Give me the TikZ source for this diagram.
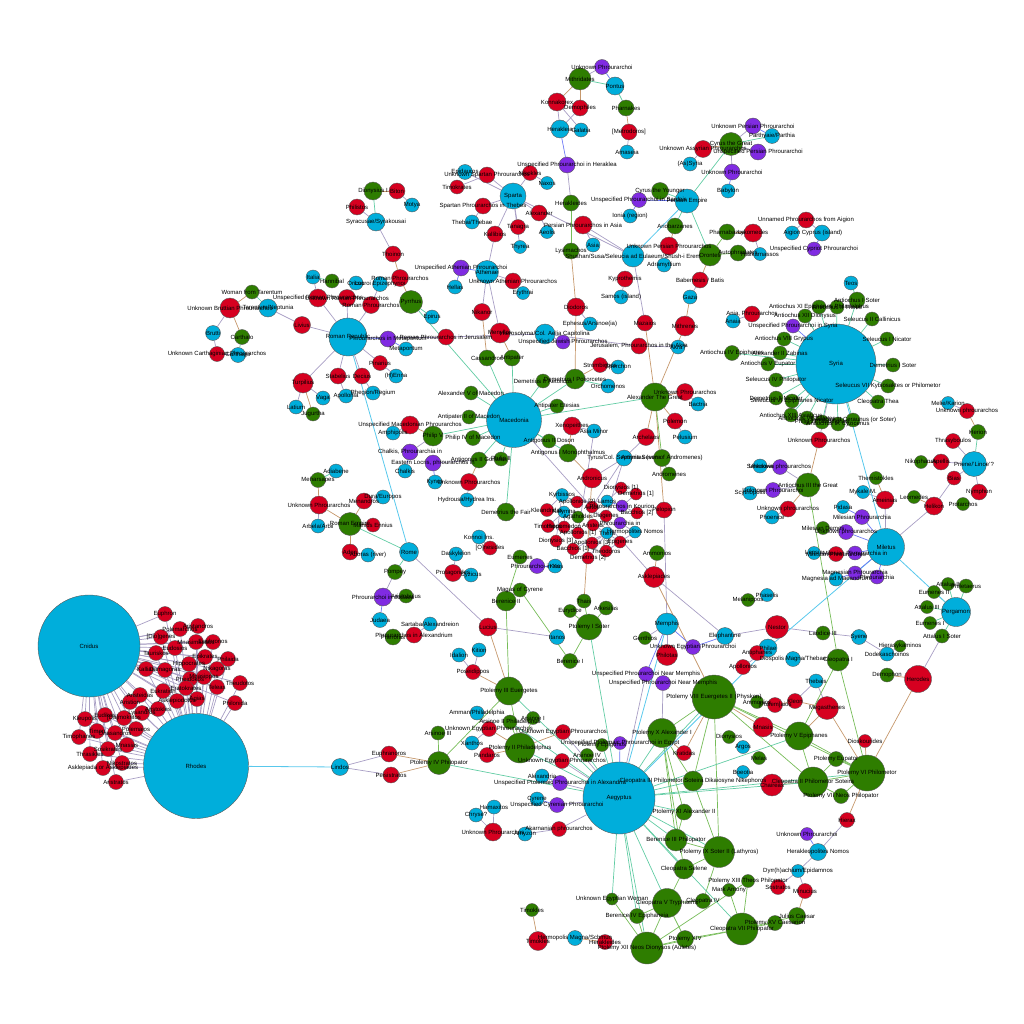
\documentclass[tikz,border=0pt]{standalone}
\usepackage{fontspec}
\setmainfont{Liberation Sans}
\definecolor{placecol}{RGB}{0,174,219}
\definecolor{officercol}{RGB}{214,0,32}
\definecolor{rulercol}{RGB}{46,125,0}
\definecolor{garrisoncol}{RGB}{128,43,226}
\definecolor{linkgrey}{RGB}{168,158,196}
\definecolor{linkbrown}{RGB}{198,152,108}
\definecolor{linkgreen}{RGB}{118,188,88}
\definecolor{linkteal}{RGB}{98,204,164}
\definecolor{linkcyan}{RGB}{88,200,236}
\definecolor{linkblue}{RGB}{108,120,245}
\pgfdeclarelayer{links}
\pgfdeclarelayer{names}
\pgfsetlayers{links,main,names}

\begin{document}
\begin{tikzpicture}[x=1pt, y=-1pt,
    place/.style={circle, draw=black!65, line width=0.4pt, fill=placecol,
                  minimum size=14pt, inner sep=0pt},
    officer/.style={place, fill=officercol, minimum size=15pt},
    ruler/.style={place, fill=rulercol},
    garrison/.style={place, fill=garrisoncol, minimum size=15pt},
    sz/.style={minimum size=#1pt},
    tag/.style={inner sep=0pt, font=\fontsize{6}{6}\selectfont},
    lgrey/.style={draw=linkgrey, line width=0.7pt},
    lbrown/.style={draw=linkbrown, line width=0.7pt},
    lgreen/.style={draw=linkgreen, line width=0.7pt},
    lteal/.style={draw=linkteal, line width=0.7pt},
    lcyan/.style={draw=linkcyan, line width=0.8pt},
    lblue/.style={draw=linkblue, line width=0.7pt}]
  \useasboundingbox (0,0) rectangle (1024,1024);

  % hubs
  \node[place, sz=102] (cnidus)    at (89,646)  {};
  \node[place, sz=105] (rhodes)    at (196,766) {};
  \node[place, sz=72]  (aegyptus)  at (619,798) {};
  \node[place, sz=55]  (macedonia) at (514,420) {};
  \node[place, sz=80]  (syria)     at (836,364) {};
  \node[place, sz=38]  (romrep)    at (348,337) {};
  \node[place, sz=37]  (miletus)   at (886,547) {};
  \node[place, sz=24]  (persia)    at (687,201) {};
  \node[place, sz=26]  (sparta)    at (513,196) {};
  \node[place, sz=29]  (pergamon)  at (956,612) {};
  \node[place, sz=25]  (priene)    at (974,464) {};

  % Cnidus and Rhodes
  \node[officer] (euphron)       at (165,614) {};
  \node[officer] (polemarchos)   at (180,629) {};
  \node[officer] (aristandros)   at (198,626) {};
  \node[officer] (diogenesr)     at (161,637) {};
  \node[officer] (mnasimachos)   at (196,642) {};
  \node[officer] (euphronos)     at (213,642) {};
  \node[officer] (eudosios)      at (175,648) {};
  \node[officer] (tauriskos)     at (156,653) {};
  \node[officer] (epikrates)     at (205,657) {};
  \node[officer] (philaida)      at (228,659) {};
  \node[officer] (hippocrates)   at (189,664) {};
  \node[officer] (nikagoras)     at (217,669) {};
  \node[officer] (kallias)       at (146,669) {};
  \node[officer] (damagoras)     at (165,670) {};
  \node[officer] (pheidokos)     at (190,679) {};
  \node[officer] (mnasippos)     at (204,677) {};
  \node[officer] (teleas)        at (217,687) {};
  \node[officer] (theudotos)     at (240,683) {};
  \node[officer] (philonida)     at (235,703) {};
  \node[officer] (eratokrates)   at (186,688) {};
  \node[officer] (agias)         at (197,699) {};
  \node[officer] (asklepiodotos) at (177,701) {};
  \node[officer] (eukration)     at (163,691) {};
  \node[officer] (aristeidas)    at (140,695) {};
  \node[officer] (aristion)      at (130,702) {};
  \node[officer] (aristokles)    at (158,709) {};
  \node[officer] (lysandros)     at (142,713) {};
  \node[officer] (mokritos)      at (124,718) {};
  \node[officer] (eudikos)       at (105,715) {};
  \node[officer] (kleupolis)     at (85,719)  {};
  \node[officer] (polemaios)     at (136,729) {};
  \node[officer] (onasandros)    at (115,733) {};
  \node[officer] (timon)         at (97,731)  {};
  \node[officer] (timophanes)    at (79,737)  {};
  \node[officer] (mnasias)       at (127,745) {};
  \node[officer] (sosikrates)    at (108,749) {};
  \node[officer] (thrasikles)    at (90,754)  {};
  \node[officer] (nikostratos)   at (122,763) {};
  \node[officer] (asklepiada)    at (103,768) {};
  \node[officer] (aristratos)    at (116,782) {};

  % Italy and the west
  \node[ruler, sz=14]   (woman)      at (252,292) {};
  \node[officer, sz=20] (bruttian)   at (230,308) {};
  \node[place, sz=18]   (tarent)     at (268,308) {};
  \node[place, sz=15]   (brutti)     at (213,333) {};
  \node[ruler, sz=15]   (carthalo)   at (242,337) {};
  \node[officer]        (unkcarth)   at (217,354) {};
  \node[place, sz=15]   (carthago)   at (238,355) {};
  \node[officer, sz=17] (livius)     at (302,325) {};
  \node[place]          (italia)     at (313,277) {};
  \node[ruler]          (hannibal)   at (332,281) {};
  \node[place]          (oricus)     at (356,283) {};
  \node[place, sz=15]   (locroi)     at (380,284) {};
  \node[officer, sz=18] (unsrom)     at (318,298) {};
  \node[officer, sz=17] (unkrom)     at (347,298) {};
  \node[officer, sz=17] (romphb)     at (371,305) {};
  \node[officer, sz=17] (rompha)     at (400,278) {};
  \node[officer, sz=16] (thoinon)    at (393,254) {};
  \node[place, sz=18]   (syrac)      at (376,222) {};
  \node[officer, sz=16] (philistos)  at (357,207) {};
  \node[ruler, sz=18]   (dionysius)  at (373,191) {};
  \node[officer, sz=16] (biton)      at (397,191) {};
  \node[place]          (motya)      at (412,205) {};
  \node[ruler, sz=23]   (pyrrhus)    at (411,302) {};
  \node[place]          (epirus)     at (432,317) {};
  \node[officer, sz=16] (romjer)     at (446,337) {};
  \node[garrison, sz=16](metaph)     at (388,339) {};
  \node[place]          (metap)      at (406,349) {};
  \node[officer, sz=20] (turpil)     at (303,383) {};
  \node[officer, sz=16] (stabel)     at (338,376) {};
  \node[officer, sz=16] (decius)     at (362,376) {};
  \node[place]          (enna)       at (396,376) {};
  \node[place]          (rhegion)    at (373,393) {};
  \node[officer]        (pinar)      at (380,363) {};
  \node[place]          (vaga)       at (323,398) {};
  \node[place]          (apollonia)  at (346,396) {};
  \node[place]          (latium)     at (296,407) {};
  \node[ruler]          (jugurtha)   at (313,414) {};
  \node[place]          (adiab)      at (336,471) {};
  \node[ruler, sz=15]   (meharsapes) at (318,480) {};
  \node[officer, sz=18] (unkphra)    at (319,505) {};
  \node[officer, sz=16] (menand)     at (364,501) {};
  \node[place]          (dura)       at (383,497) {};
  \node[ruler, sz=23]   (romemp)     at (350,524) {};
  \node[place]          (arbela)     at (318,526) {};
  \node[officer, sz=14] (manius)     at (373,525) {};
  \node[officer, sz=16] (adon)       at (350,552) {};
  \node[place]          (aboras)     at (368,555) {};
  \node[place, sz=19]   (rome)       at (409,552) {};
  \node[ruler, sz=15]   (pompey)     at (395,572) {};
  \node[garrison, sz=18](judph)      at (383,597) {};
  \node[ruler]          (aristob)    at (406,596) {};
  \node[place, sz=15]   (judaea)     at (380,620) {};
  \node[ruler, sz=16]   (pheroras)   at (393,637) {};
  \node[officer, sz=16] (alexph)     at (414,635) {};
  \node[place]          (sartaba)    at (430,624) {};
  \node[officer, sz=18] (lucius)     at (488,627) {};
  \node[place]          (dask)       at (456,554) {};
  \node[officer, sz=17] (protag)     at (453,573) {};
  \node[place]          (cyzicus)    at (471,575) {};
  \node[place]          (konnoi)     at (479,537) {};
  \node[officer, sz=14] (onesid)     at (490,548) {};
  \node[ruler]          (magas)      at (520,590) {};
  \node[ruler, sz=20]   (bere2)      at (506,601) {};
  \node[ruler]          (eumenes)    at (520,557) {};
  \node[garrison]       (kosph)      at (537,566) {};
  \node[place]          (kos)        at (555,566) {};
  \node[place]          (kition)     at (479,650) {};
  \node[place]          (idalion)    at (459,655) {};
  \node[officer]        (poseid)     at (473,672) {};

  % Greece
  \node[place, sz=15]   (epid)      at (465,172) {};
  \node[officer, sz=16] (unkspar)   at (487,175) {};
  \node[officer, sz=14] (timokr)    at (457,187) {};
  \node[officer, sz=16] (spartheb)  at (483,206) {};
  \node[place]          (thebai)    at (472,222) {};
  \node[officer, sz=16] (kallib)    at (495,234) {};
  \node[officer]        (tanagra)   at (518,227) {};
  \node[place, sz=13]   (thyrea)    at (520,247) {};
  \node[officer]        (nikokles)  at (530,173) {};
  \node[place, sz=13]   (naxos)     at (547,183) {};
  \node[place, sz=13]   (aeolis)    at (547,232) {};
  \node[garrison, sz=16](unsath)    at (461,268) {};
  \node[place, sz=23]   (athenae)   at (487,272) {};
  \node[officer, sz=16] (unkath)    at (513,281) {};
  \node[place]          (hellas)    at (455,287) {};
  \node[place, sz=13]   (erythrai)  at (523,293) {};
  \node[officer, sz=17] (nikanor)   at (482,312) {};
  \node[officer, sz=20] (menyllos)  at (500,333) {};
  \node[ruler, sz=16]   (cassand)   at (487,358) {};
  \node[ruler, sz=16]   (antipater) at (512,358) {};

  % Macedonia and Alexander
  \node[ruler]          (alexv)     at (471,393) {};
  \node[ruler]          (antipii)   at (469,417) {};
  \node[officer, sz=18] (unsmac)    at (410,425) {};
  \node[place]          (amphip)    at (393,433) {};
  \node[ruler, sz=20]   (philv)     at (433,436) {};
  \node[ruler, sz=15]   (philiv)    at (473,438) {};
  \node[garrison, sz=16](chalkph)   at (410,452) {};
  \node[garrison, sz=16](locrph)    at (433,463) {};
  \node[place]          (chalkis)   at (405,471) {};
  \node[ruler, sz=16]   (gonatas)   at (479,460) {};
  \node[ruler]          (philii)    at (501,459) {};
  \node[place]          (kynos)     at (435,482) {};
  \node[officer, sz=17] (unkphrb)   at (469,482) {};
  \node[place]          (hydrousa)  at (467,500) {};
  \node[ruler, sz=18]   (demfair)   at (506,512) {};
  \node[ruler]          (demaet)    at (543,381) {};
  \node[ruler, sz=20]   (dempol)    at (575,379) {};
  \node[officer]        (strombi)   at (600,365) {};
  \node[place]          (sperchon)  at (618,367) {};
  \node[place]          (orchom)    at (608,386) {};
  \node[ruler]          (antetes)   at (557,406) {};
  \node[ruler, sz=28]   (alexgr)    at (655,397) {};
  \node[officer, sz=17] (unkphrc)   at (685,392) {};
  \node[place]          (bactria)   at (698,404) {};
  \node[officer, sz=16] (polemon)   at (675,421) {};
  \node[place]          (pelusium)  at (685,437) {};
  \node[officer, sz=17] (archel)    at (646,437) {};
  \node[officer, sz=18] (xenop)     at (572,426) {};
  \node[place]          (asiaminor) at (594,431) {};
  \node[ruler]          (doson)     at (549,441) {};
  \node[ruler, sz=18]   (monoph)    at (568,453) {};
  \node[place, sz=16]   (tyrus)     at (624,458) {};
  \node[ruler, sz=17]   (amyntas)   at (662,458) {};
  \node[ruler]          (androm)    at (669,474) {};
  \node[officer, sz=20] (andron)    at (592,478) {};
  \node[officer, sz=12] (dion1)     at (621,488) {};
  \node[officer, sz=12] (demet1)    at (636,494) {};
  \node[place, sz=13]   (kyrb)      at (562,495) {};
  \node[officer, sz=12] (apoll2)    at (577,502) {};
  \node[place, sz=12]   (lamos)     at (607,501) {};
  \node[garrison, sz=12](kourion)   at (622,506) {};
  \node[officer, sz=16] (pelop)     at (664,510) {};
  \node[officer, sz=12] (bacch2)    at (637,513) {};
  \node[officer, sz=13] (kleandr)   at (547,510) {};
  \node[place, sz=12]   (kalymna)   at (564,512) {};
  \node[officer, sz=12] (aetos)     at (592,507) {};
  \node[officer, sz=12] (diogenes)  at (606,516) {};
  \node[ruler, sz=12]   (agathok)   at (578,517) {};
  \node[garrison, sz=12](phin)      at (620,523) {};
  \node[place, sz=12]   (nomos)     at (635,532) {};
  \node[officer, sz=13] (timoth)    at (548,526) {};
  \node[officer, sz=12] (hippom)    at (564,527) {};
  \node[officer, sz=12] (aristeas)  at (593,525) {};
  \node[officer, sz=12] (apoll1)    at (578,533) {};
  \node[place, sz=12]   (thera)     at (607,533) {};
  \node[officer, sz=12] (dion3)     at (556,541) {};
  \node[officer, sz=12] (apoll3)    at (592,543) {};
  \node[officer, sz=12] (epigenes)  at (620,542) {};
  \node[officer, sz=12] (bacch1)    at (573,549) {};
  \node[officer, sz=12] (theodor)   at (606,551) {};
  \node[officer, sz=12] (demet2)    at (588,558) {};
  \node[ruler, sz=15]   (ammona)    at (657,553) {};
  \node[officer, sz=21] (asklep)    at (654,577) {};
  \node[ruler]          (thais)     at (584,601) {};
  \node[ruler]          (arkes)     at (606,608) {};
  \node[ruler, sz=13]   (eurydice)  at (570,611) {};
  \node[ruler, sz=26]   (ptoli)     at (589,627) {};
  \node[place, sz=15]   (itanos)    at (557,637) {};
  \node[ruler, sz=15]   (berei)     at (570,661) {};
  \node[place, sz=22]   (memphis)   at (667,624) {};
  \node[ruler, sz=13]   (genth)     at (645,638) {};
  \node[garrison]       (unkegph)   at (693,647) {};
  \node[officer, sz=21] (philotas)  at (667,655) {};

  % Pontus, Asia, Persia
  \node[garrison]       (unkphoia)  at (602,67)  {};
  \node[ruler, sz=22]   (mithrid)   at (580,79)  {};
  \node[place, sz=18]   (pontus)    at (615,86)  {};
  \node[officer, sz=18] (konnak)    at (557,102) {};
  \node[officer, sz=16] (demoph)    at (580,108) {};
  \node[ruler, sz=16]   (pharnakes) at (626,108) {};
  \node[place, sz=18]   (herakleia) at (560,129) {};
  \node[place]          (galatia)   at (581,130) {};
  \node[officer, sz=16] (metrod)    at (629,132) {};
  \node[place]          (amaseia)   at (627,152) {};
  \node[garrison, sz=16](heraph)    at (567,165) {};
  \node[ruler, sz=16]   (herakleid) at (571,203) {};
  \node[officer, sz=16] (alexandr)  at (539,213) {};
  \node[officer, sz=18] (persasia)  at (583,225) {};
  \node[place]          (asia)      at (593,245) {};
  \node[ruler, sz=16]   (lysim)     at (571,251) {};
  \node[officer, sz=16] (kyproth)   at (625,279) {};
  \node[place]          (samos)     at (621,297) {};
  \node[officer, sz=18] (diodoros)  at (576,307) {};
  \node[place]          (ephesus)   at (590,324) {};
  \node[officer, sz=16] (mazaios)   at (645,323) {};
  \node[place, sz=20]   (hieros)    at (545,334) {};
  \node[garrison, sz=14](jewph)     at (563,342) {};
  \node[officer, sz=16] (jerph)     at (639,346) {};
  \node[place]          (akra)      at (678,347) {};
  \node[ruler, sz=23]   (cyrusg)    at (731,144) {};
  \node[ruler, sz=17]   (cyrusy)    at (660,191) {};
  \node[garrison]       (unspsard)  at (639,200) {};
  \node[place]          (ionia)     at (630,216) {};
  \node[ruler, sz=16]   (ariob)     at (675,226) {};
  \node[officer, sz=18] (unkpers)   at (669,246) {};
  \node[place]          (adramyt)   at (664,265) {};
  \node[place, sz=22]   (shushan)   at (633,256) {};
  \node[garrison, sz=16](unkpersoi) at (753,126) {};
  \node[place, sz=15]   (parthia)   at (772,136) {};
  \node[officer, sz=17] (unkassyr)  at (703,149) {};
  \node[garrison, sz=16](unsppers)  at (758,152) {};
  \node[place]          (assyria)   at (690,164) {};
  \node[garrison, sz=16](unkphoib)  at (732,172) {};
  \node[place]          (babylon)   at (728,191) {};
  \node[ruler, sz=16]   (pharnab)   at (727,232) {};
  \node[officer, sz=18] (lykom)     at (753,233) {};
  \node[ruler, sz=16]   (autoph)    at (738,253) {};
  \node[place, sz=13]   (halik)     at (760,254) {};
  \node[ruler, sz=22]   (orontes)   at (710,255) {};
  \node[officer, sz=16] (babem)     at (700,280) {};
  \node[place]          (gaza)      at (690,297) {};
  \node[officer, sz=20] (mithren)   at (685,326) {};
  \node[officer, sz=16] (unnamaig)  at (806,220) {};
  \node[place]          (aigion)    at (792,233) {};
  \node[place, sz=16]   (cyprus)    at (822,233) {};
  \node[garrison, sz=14](cyprph)    at (814,249) {};
  \node[place]          (anaia)     at (733,321) {};
  \node[officer, sz=16] (aniaph)    at (752,314) {};

  % Seleucids
  \node[place]          (teos)      at (851,283) {};
  \node[ruler, sz=16]   (ant1)      at (857,300) {};
  \node[ruler]          (ant2)      at (837,307) {};
  \node[ruler]          (ant11)     at (819,307) {};
  \node[ruler]          (ant12)     at (805,316) {};
  \node[ruler]          (sel2)      at (872,319) {};
  \node[ruler]          (sel1)      at (887,339) {};
  \node[garrison, sz=14](syrph)     at (793,326) {};
  \node[ruler]          (ant8)      at (784,339) {};
  \node[ruler]          (zabinas)   at (780,353) {};
  \node[ruler, sz=15]   (ant4)      at (732,353) {};
  \node[ruler]          (ant5)      at (768,364) {};
  \node[ruler]          (sel4)      at (776,380) {};
  \node[ruler]          (dem2)      at (776,398) {};
  \node[ruler]          (sel6)      at (792,401) {};
  \node[ruler]          (ant13)     at (791,415) {};
  \node[ruler]          (ant7)      at (807,418) {};
  \node[ruler]          (phil1)     at (822,422) {};
  \node[ruler]          (ant9)      at (838,424) {};
  \node[ruler]          (sel3)      at (853,420) {};
  \node[ruler]          (cleothea)  at (878,402) {};
  \node[ruler]          (sel7)      at (888,386) {};
  \node[ruler]          (dem1)      at (893,365) {};
  \node[officer, sz=16] (unkphrd)   at (819,440) {};
  \node[ruler, sz=24]   (ant3)      at (808,485) {};
  \node[garrison]       (unkphp)    at (780,467) {};
  \node[garrison]       (unkphoic)  at (773,490) {};
  \node[officer, sz=16] (unkphre)   at (788,509) {};
  \node[place]          (phoenice)  at (772,517) {};
  \node[place]          (seleukeia) at (760,466) {};
  \node[place]          (scyth)     at (750,493) {};

  % Miletus, Priene, Pergamon
  \node[ruler, sz=13]   (themist)   at (876,478) {};
  \node[place, sz=13]   (mykale)    at (863,492) {};
  \node[officer, sz=18] (ameinias)  at (885,500) {};
  \node[ruler, sz=13]   (leomedes)  at (914,497) {};
  \node[officer, sz=18] (helikon)   at (934,506) {};
  \node[ruler, sz=13]   (protarchos)at (963,504) {};
  \node[officer, sz=16] (nymphon)   at (979,492) {};
  \node[officer, sz=14] (bias)      at (954,478) {};
  \node[officer, sz=16] (apellis)   at (941,462) {};
  \node[ruler, sz=13]   (nikoph)    at (921,462) {};
  \node[officer]        (thrasy)    at (953,441) {};
  \node[ruler, sz=15]   (herion)    at (978,432) {};
  \node[officer]        (unkphrf)   at (967,411) {};
  \node[place, sz=13]   (melie)     at (948,403) {};
  \node[place, sz=13]   (pidasa)    at (843,507) {};
  \node[garrison]       (milph)     at (862,517) {};
  \node[ruler, sz=13]   (mildemos)  at (823,528) {};
  \node[garrison]       (unkphq)    at (846,532) {};
  \node[place, sz=13]   (lepsia)    at (814,553) {};
  \node[officer]        (milphos)   at (836,554) {};
  \node[garrison, sz=14](milphin)   at (855,553) {};
  \node[garrison, sz=14](magph)     at (855,573) {};
  \node[garrison, sz=14](phroa)     at (877,577) {};
  \node[place]          (magnesia)  at (836,579) {};
  \node[ruler, sz=13]   (attalus2)  at (948,584) {};
  \node[ruler]          (philet)    at (966,586) {};
  \node[ruler, sz=13]   (eumenes2)  at (934,592) {};
  \node[ruler, sz=13]   (attalus3)  at (927,607) {};
  \node[ruler, sz=13]   (eumenes1)  at (930,623) {};
  \node[ruler]          (attalus1)  at (942,636) {};

  % Upper Egypt and the later Ptolemies
  \node[ruler, sz=13]   (melan)     at (748,600) {};
  \node[place, sz=13]   (phaselis)  at (767,595) {};
  \node[officer, sz=23] (nestor)    at (777,627) {};
  \node[ruler]          (laodice)   at (823,633) {};
  \node[place, sz=15]   (syene)     at (859,637) {};
  \node[place]          (dodek)     at (887,654) {};
  \node[ruler, sz=12]   (hierasyk)  at (900,646) {};
  \node[ruler]          (demophon)  at (887,675) {};
  \node[officer, sz=27] (herodes)   at (918,679) {};
  \node[place]          (thebais)   at (816,681) {};
  \node[place, sz=15]   (diosp)     at (793,659) {};
  \node[ruler, sz=22]   (cleoi)     at (838,660) {};
  \node[place, sz=18]   (philae)    at (768,648) {};
  \node[place, sz=17]   (elephant)  at (725,636) {};
  \node[officer]        (antiph)    at (757,653) {};
  \node[officer]        (apollon)   at (743,667) {};
  \node[officer]        (kleon)     at (795,701) {};
  \node[officer]        (ptolaios)  at (775,705) {};
  \node[officer, sz=23] (megas)     at (827,708) {};
  \node[ruler, sz=28]   (ptolv)     at (799,736) {};
  \node[officer, sz=13] (dioskour)  at (865,741) {};
  \node[ruler, sz=15]   (eupator)   at (836,759) {};
  \node[ruler, sz=36]   (ptolvi)    at (867,773) {};
  \node[ruler, sz=30]   (cleoii)    at (813,782) {};
  \node[ruler, sz=15]   (ptolvii)   at (841,796) {};
  \node[officer, sz=22] (chaireas)  at (772,785) {};
  \node[officer]        (hierax)    at (847,820) {};
  \node[garrison, sz=13](unkphoid)  at (807,834) {};
  \node[place, sz=17]   (herakleo)  at (818,852) {};
  \node[place, sz=13]   (dyrr)      at (798,871) {};
  \node[officer]        (sostr)     at (778,887) {};
  \node[officer]        (minucius)  at (805,891) {};
  \node[ruler, sz=17]   (julius)    at (797,916) {};
  \node[ruler, sz=15]   (caesarion) at (775,923) {};
  \node[ruler, sz=13]   (ammonb)    at (757,702) {};
  \node[officer, sz=20] (mnasis)    at (763,727) {};
  \node[ruler, sz=13]   (dionysb)   at (729,737) {};
  \node[place, sz=13]   (argos)     at (743,747) {};
  \node[ruler, sz=13]   (melas)     at (759,758) {};
  \node[place, sz=13]   (boeotia)   at (743,772) {};
  \node[garrison]       (memnear1)  at (646,674) {};
  \node[garrison]       (memnear2)  at (663,683) {};
  \node[ruler, sz=44]   (ptolviii)  at (714,697) {};
  \node[ruler, sz=29]   (ptolx)     at (662,733) {};
  \node[officer]        (kratidas)  at (684,753) {};
  \node[ruler, sz=20]   (cleoiii)   at (693,781) {};
  \node[ruler, sz=16]   (ptolxi)    at (684,812) {};
  \node[ruler, sz=22]   (bereiii)   at (676,840) {};
  \node[ruler, sz=31]   (ptolix)    at (719,852) {};
  \node[ruler, sz=20]   (selene)    at (684,869) {};
  \node[ruler, sz=13]   (ptolxiii)  at (748,881) {};
  \node[ruler, sz=13]   (antony)    at (729,890) {};
  \node[ruler, sz=12]   (unkwoman)  at (612,899) {};
  \node[ruler, sz=29]   (cleov)     at (667,903) {};
  \node[ruler, sz=15]   (cleoiv)    at (703,901) {};
  \node[ruler, sz=15]   (bereiv)    at (637,916) {};
  \node[ruler, sz=17]   (ptolxiv)   at (685,939) {};
  \node[ruler, sz=32]   (ptolxii)   at (647,948) {};
  \node[ruler, sz=32]   (cleovii)   at (742,929) {};
  \node[ruler, sz=13]   (timoklesa) at (532,910) {};
  \node[officer, sz=19] (timoklesb) at (538,941) {};
  \node[place, sz=15]   (hermop)    at (575,938) {};
  \node[officer]        (herakl)    at (605,942) {};

  % Alexandria and the early Ptolemies
  \node[ruler, sz=13]   (epigonos)  at (602,745) {};
  \node[garrison, sz=13](egyph)     at (620,743) {};
  \node[ruler, sz=13]   (arsiv)     at (587,755) {};
  \node[officer]        (unkega)    at (563,732) {};
  \node[officer]        (unkegb)    at (562,761) {};
  \node[ruler, sz=13]   (arsi)      at (533,718) {};
  \node[ruler, sz=30]   (ptolii)    at (520,748) {};
  \node[ruler, sz=14]   (arsii)     at (510,722) {};
  \node[place]          (alexa)     at (542,776) {};
  \node[garrison]       (alexpha)   at (560,783) {};
  \node[place]          (cyrene)    at (537,799) {};
  \node[garrison]       (cyrph)     at (557,805) {};
  \node[officer]        (akarn)     at (559,829) {};
  \node[place]          (amyzon)    at (525,834) {};
  \node[officer, sz=18] (unkphrg)   at (493,832) {};
  \node[place]          (chryse)    at (476,815) {};
  \node[place]          (hamax)     at (494,807) {};
  \node[ruler, sz=28]   (ptoliii)   at (509,691) {};
  \node[ruler, sz=14]   (arsiii)    at (438,733) {};
  \node[ruler, sz=23]   (ptoliv)    at (439,763) {};
  \node[place]          (amman)     at (477,713) {};
  \node[officer]        (unkegc)    at (489,729) {};
  \node[place]          (xanthos)   at (472,743) {};
  \node[officer]        (pandaros)  at (487,755) {};
  \node[place, sz=17]   (lindos)    at (340,767) {};
  \node[officer, sz=16] (euphr)     at (389,754) {};
  \node[officer, sz=16] (peisi)     at (391,775) {};

  \begin{pgfonlayer}{links}
  \path[lgrey] (cnidus) edge (euphron) edge (polemarchos) edge (aristandros)
      edge (diogenesr) edge (mnasimachos) edge (euphronos) edge (eudosios)
      edge (tauriskos) edge (epikrates) edge (philaida) edge (hippocrates)
      edge (nikagoras) edge (kallias) edge (damagoras) edge (pheidokos)
      edge (mnasippos) edge (teleas) edge (theudotos) edge (philonida)
      edge (eratokrates) edge (agias) edge (asklepiodotos) edge (eukration)
      edge (aristeidas) edge (aristion) edge (aristokles) edge (lysandros)
      edge (mokritos) edge (eudikos) edge (kleupolis) edge (polemaios)
      edge (onasandros) edge (timon) edge (timophanes) edge (mnasias)
      edge (sosikrates) edge (thrasikles) edge (nikostratos) edge (asklepiada)
      edge (aristratos);
  \path[lgrey] (rhodes) edge (euphron) edge (polemarchos) edge (aristandros)
      edge (diogenesr) edge (mnasimachos) edge (euphronos) edge (eudosios)
      edge (tauriskos) edge (epikrates) edge (philaida) edge (hippocrates)
      edge (nikagoras) edge (kallias) edge (damagoras) edge (pheidokos)
      edge (mnasippos) edge (teleas) edge (theudotos) edge (philonida)
      edge (eratokrates) edge (agias) edge (asklepiodotos) edge (eukration)
      edge (aristeidas) edge (aristion) edge (aristokles) edge (lysandros)
      edge (mokritos) edge (eudikos) edge (kleupolis) edge (polemaios)
      edge (onasandros) edge (timon) edge (timophanes) edge (mnasias)
      edge (sosikrates) edge (thrasikles) edge (nikostratos) edge (asklepiada)
      edge (aristratos);
  \path[lgrey] (lindos) edge (euphr) edge (peisi)
      (unkegc) edge (amman) edge (xanthos)
      (unkphrg) edge (hamax) edge (chryse)
      (akarn) edge (amyzon) edge (aegyptus)
      (aegyptus) edge (cyrph) edge (alexpha) edge (unkega) edge (unkegb) edge (memnear1)
      (memnear2) edge (ptolx)
      (sparta) edge (epid) edge (unkspar) edge (spartheb) edge (kallib) edge (tanagra)
          edge (nikokles) edge (shushan) edge (thyrea) edge (alexandr)
      (timokr) edge (unkspar) (spartheb) edge (thebai) (kallib) edge (athenae)
      (nikokles) edge (naxos) (aeolis) edge (alexandr)
      (athenae) edge (unkath) edge (nikanor) edge (menyllos) (unkath) edge (erythrai)
      (macedonia) edge (asklep) (unsmac) edge (amphip) (philv) edge (chalkph)
      (gonatas) edge (locrph) (unkphrb) edge (hydrousa)
      (xenop) edge (asiaminor) (andron) edge (tyrus) (archel) edge (tyrus)
      (unkphrc) edge (bactria) (polemon) edge (pelusium) (pelop) edge (memphis)
      (strombi) edge (sperchon) (asklep) edge (elephant)
      (memphis) edge (philotas) edge (genth)
      (elephant) edge (nestor) (nestor) edge (laodice) (laodice) edge (syene)
      (syene) edge (dodek) (dodek) edge (hierasyk) (herodes) edge (attalus1)
      (thebais) edge (megas) edge (kleon)
      (herakleo) edge (hierax) edge (dyrr) (dyrr) edge (minucius) edge (sostr)
      (helikon) edge (miletus) edge (bias) (bias) edge (priene)
      (priene) edge (apellis) edge (nymphon) edge (thrasy) (unkphrf) edge (melie)
      (ameinias) edge (miletus) edge (mykale) (lepsia) edge (milphos) (mildemos) edge (unkphq)
      (philae) edge (antiph) edge (apollon)
      (romrep) edge (livius) edge (unsrom) edge (unkrom) edge (romphb) edge (turpil)
          edge (stabel) edge (decius) edge (pinar) edge (romjer)
      (livius) edge (tarent) (unsrom) edge (italia) (unkrom) edge (oricus)
      (romphb) edge (locroi) (thoinon) edge (syrac) (syrac) edge (philistos) (biton) edge (motya)
      (turpil) edge (vaga) edge (latium) (stabel) edge (apollonia) (decius) edge (rhegion)
      (pinar) edge (enna)
      (bruttian) edge (brutti) (unkcarth) edge (carthago) edge (brutti)
      (unkphra) edge (arbela) (menand) edge (dura) (adon) edge (aboras)
      (rome) edge (lucius) (pompey) edge (judph) (aristob) edge (judph) (alexph) edge (sartaba)
      (lucius) edge (itanos)
      (dask) edge (protag) (protag) edge (cyzicus) (konnoi) edge (onesid)
      (kition) edge (poseid) (idalion) edge (poseid)
      (mithrid) edge (unkphoia) (konnak) edge (herakleia) edge (galatia)
      (demoph) edge (herakleia) (metrod) edge (amaseia) (heraph) edge (herakleid)
      (persasia) edge (asia) (kyproth) edge (samos) (shushan) edge (mazaios) edge (persasia)
      (diodoros) edge (ephesus) (unkpers) edge (adramyt) (babem) edge (gaza) (lykom) edge (halik)
      (cyrusg) edge (unkpersoi) edge (unsppers) edge (unkphoib) (unkassyr) edge (assyria)
      (unnamaig) edge (aigion) edge (cyprus) (aniaph) edge (anaia)
      (jerph) edge (hieros) edge (akra) (hieros) edge (romjer)
      (syria) edge (unkphrd) (ant3) edge (unkphp) edge (unkphoic)
      (seleukeia) edge (unkphp) (scyth) edge (unkphoic) (phoenice) edge (unkphre)
      (kyrb) edge (kleandr) edge (apoll2) (lamos) edge (dion1) edge (apoll2)
      (kourion) edge (demet1) edge (bacch2) (phin) edge (nomos) (thera) edge (aristeas) edge (epigenes)
      (kalymna) edge (hippom) edge (timoth) edge (agathok) (nomos) edge (theodor)
      (asiaminor) edge (apoll1) (tyrus) edge (aetos) edge (diogenes) (kyrb) edge (dion3)
      (thera) edge (apoll3) edge (demet2) edge (bacch1);
  \path[lbrown] (euphr) edge (ptoliv) (peisi) edge (ptoliv)
      (ptoliii) edge (poseid) (ptolii) edge (unkegc) edge (pandaros) edge (unkega)
      (kratidas) edge (ptolx) edge (ptolviii)
      (ptolvi) edge (dioskour) edge (herodes) edge (hierax)
      (megas) edge (ptolvi) edge (ptolv) (kleon) edge (megas) (ptolaios) edge (kleon)
      (cleoii) edge (chaireas) (mnasis) edge (ptolviii) (minucius) edge (julius)
      (herodes) edge (demophon)
      (helikon) edge (leomedes) (herion) edge (unkphrf) (apellis) edge (nikoph)
      (ameinias) edge (themist)
      (rompha) edge (pyrrhus) edge (thoinon) (dionysius) edge (biton) (turpil) edge (jugurtha)
      (bruttian) edge (carthalo) edge (woman)
      (unkphra) edge (meharsapes) edge (romemp)
      (romemp) edge (menand) edge (manius) edge (adon)
      (pheroras) edge (alexph) (lucius) edge (ptoliii)
      (mithrid) edge (konnak) edge (demoph) (pharnakes) edge (metrod)
      (lysim) edge (diodoros) (diodoros) edge (dempol)
      (ariob) edge (unkpers) (pharnab) edge (lykom) (orontes) edge (babem)
      (gaza) edge (mithren) (mithren) edge (alexgr) (mazaios) edge (alexgr)
      (unkassyr) edge (cyrusg)
      (nikanor) edge (cassand) (menyllos) edge (antipater)
      (philv) edge (unsmac) (gonatas) edge (unkphrb) (dempol) edge (strombi)
      (monoph) edge (andron) edge (xenop) (andron) edge (thais)
      (alexgr) edge (unkphrc) edge (polemon) edge (archel) edge (pelop)
      (asklep) edge (ammona) edge (ptolviii)
      (ant3) edge (unkphrd) edge (unkphre)
      (timoklesa) edge (timoklesb) (hermop) edge (herakl);
  \path[lgreen] (ptoliv) edge (arsiii) edge (ptoliii)
      (ptoliii) edge (bere2) edge (ptolii) (ptolii) edge (arsii) edge (arsi)
      (herakleid) edge (lysim)
      (ptoli) edge (thais) edge (eurydice) edge (arkes) edge (berei)
      (berei) edge (magas) (magas) edge (bere2) (eumenes) edge (bere2)
      (ptolviii) edge (ptolx) edge (ptolix) edge (cleoiii) edge (ptolvi) edge (cleoii) edge (ptolv)
      (ptolx) edge (cleoiii) edge (ptolxi) edge (bereiii) edge (selene)
      (cleoiii) edge (ptolix) (ptolxi) edge (bereiii) (bereiii) edge (ptolix)
      (ptolix) edge (selene) edge (cleoiv) (selene) edge (cleov)
      (cleov) edge (ptolxii) edge (cleoiv) edge (bereiv) edge (ptolxiv)
      (ptolxii) edge (bereiv) edge (unkwoman) edge (cleovii) edge (ptolxiv) edge (ptolxiii)
      (cleovii) edge (ptolxiii) edge (ptolxiv) edge (antony) edge (julius) edge (caesarion)
      (ptolv) edge (cleoi) edge (cleoii) edge (ptolvi)
      (ptolvi) edge (cleoii) edge (eupator) edge (ptolvii) edge (cleoi)
      (cleoii) edge (ptolvii) edge (eupator)
      (ant3) edge (cleoi)
      (alexgr) edge (amyntas) (amyntas) edge (androm)
      (pharnab) edge (orontes) (orontes) edge (autoph);
  \path[lteal] (aegyptus) edge (ptoliv) edge (ptoliii) edge (ptolii) edge (arsiv) edge (epigonos)
          edge (ptolviii) edge (ptolx) edge (cleoiii) edge (ptolxi) edge (bereiii)
          edge (ptolix) edge (selene) edge (cleov) edge (ptolxii) edge (bereiv)
          edge (unkwoman) edge (cleovii) edge (ptoli) edge (ptolv) edge (ptolvi)
          edge (cleoii) edge (arsii)
      (pergamon) edge (attalus2) edge (philet) edge (eumenes2) edge (attalus3)
          edge (eumenes1) edge (attalus1)
      (syria) edge (ant1) edge (ant2) edge (ant11) edge (ant12) edge (sel2) edge (sel1)
          edge (ant8) edge (zabinas) edge (ant4) edge (ant5) edge (sel4) edge (dem2)
          edge (sel6) edge (ant13) edge (ant7) edge (phil1) edge (ant9) edge (sel3)
          edge (cleothea) edge (sel7) edge (dem1)
      (teos) edge (ant1)
      (macedonia) edge (alexv) edge (antipii) edge (philiv) edge (philv) edge (gonatas)
          edge (philii) edge (demfair) edge (doson) edge (monoph) edge (demaet)
          edge (dempol) edge (antetes) edge (alexgr) edge (pyrrhus) edge (cassand)
          edge (antipater)
      (dempol) edge (orchom)
      (persia) edge (cyrusg) edge (cyrusy) edge (ariob) edge (orontes)
      (cyrusg) edge (parthia) (mithrid) edge (pontus) (pontus) edge (pharnakes)
      (pyrrhus) edge (epirus) (syrac) edge (dionysius)
      (meharsapes) edge (adiab) (romemp) edge (rome) (rome) edge (pompey)
      (woman) edge (tarent) (carthalo) edge (carthago) (herion) edge (priene)
      (hannibal) edge (italia);
  \path[lcyan] (rhodes) edge (lindos) (persia) edge (shushan) (syria) edge (miletus)
      (miletus) edge (pergamon) edge (philae) (romrep) edge (rome)
      (philae) edge (aegyptus) (memphis) edge (aegyptus);
  \path[lblue] (unkphoia) edge (pontus) (heraph) edge (herakleia)
      (unsath) edge (athenae) edge (hellas) (romrep) edge (metaph) (metaph) edge (metap)
      (chalkph) edge (chalkis) (locrph) edge (kynos)
      (unspsard) edge (persia) edge (ionia) (unkphoib) edge (babylon)
      (unkpersoi) edge (parthia) (cyprph) edge (cyprus) (syrph) edge (syria)
      (hieros) edge (jewph) (cyrene) edge (cyrph) (alexa) edge (alexpha)
      (egyph) edge (aegyptus) (memnear1) edge (memphis)
      (unkegph) edge (memphis) edge (elephant) (judph) edge (judaea)
      (miletus) edge (milph) edge (unkphq) edge (milphin) edge (magph) edge (phroa)
      (pidasa) edge (milph) (magnesia) edge (magph)
      (unkphoid) edge (herakleo) (kourion) edge (lamos) (kosph) edge (kos);
  \end{pgfonlayer}

  \begin{pgfonlayer}{names}
  \node[tag] (tcnidus)    at (cnidus)    {Cnidus};
  \node[tag] (trhodes)    at (rhodes)    {Rhodes};
  \node[tag] (taegyptus)  at (aegyptus)  {Aegyptus};
  \node[tag] (tmacedonia) at (macedonia) {Macedonia};
  \node[tag] (tsyria)     at (syria)     {Syria};
  \node[tag] (tromrep)    at (romrep)    {Roman Republic};
  \node[tag] (tmiletus)   at (miletus)   {Miletus};
  \node[tag] (tpersia)    at (persia)    {Persian Empire};
  \node[tag] (tsparta)    at (sparta)    {Sparta};
  \node[tag] (tpergamon)  at (pergamon)  {Pergamon};
  \node[tag] (tpriene)    at (priene)    {Priene/'Linoe'?};
  \node[tag] (t1)  at (euphron)       {Euphron};
  \node[tag] (t2)  at (polemarchos)   {Polemarchos};
  \node[tag] (t3)  at (aristandros)   {Aristandros};
  \node[tag] (t4)  at (diogenesr)     {[Dio]genes};
  \node[tag] (t5)  at (mnasimachos)   {Mnasimachos};
  \node[tag] (t6)  at (euphronos)     {Euphronos};
  \node[tag] (t7)  at (eudosios)      {Eudosios};
  \node[tag] (t8)  at (tauriskos)     {Tauriskos};
  \node[tag] (t9)  at (epikrates)     {Epikrates};
  \node[tag] (t10) at (philaida)      {Philaida};
  \node[tag] (t11) at (hippocrates)   {Hippocrates};
  \node[tag] (t12) at (nikagoras)     {Nikagoras};
  \node[tag] (t13) at (kallias)       {Kallias};
  \node[tag] (t14) at (damagoras)     {Damagoras};
  \node[tag] (t15) at (pheidokos)     {Pheidokos};
  \node[tag] (t16) at (mnasippos)     {Mnasippos};
  \node[tag] (t17) at (teleas)        {Teleas};
  \node[tag] (t18) at (theudotos)     {Theudotos};
  \node[tag] (t19) at (philonida)     {Philonida};
  \node[tag] (t20) at (eratokrates)   {Eratokrates};
  \node[tag] (t21) at (agias)         {Agias};
  \node[tag] (t22) at (asklepiodotos) {Asklepiodotos};
  \node[tag] (t23) at (eukration)     {Eukration};
  \node[tag] (t24) at (aristeidas)    {Aristeidas};
  \node[tag] (t25) at (aristion)      {Aristion};
  \node[tag] (t26) at (aristokles)    {Aristokles};
  \node[tag] (t27) at (lysandros)     {Lysandros};
  \node[tag] (t28) at (mokritos)      {[Da]mokritos};
  \node[tag] (t29) at (eudikos)       {Eudikos};
  \node[tag] (t30) at (kleupolis)     {Kleupolis};
  \node[tag] (t31) at (polemaios)     {Polemaios};
  \node[tag] (t32) at (onasandros)    {Onasandros};
  \node[tag] (t33) at (timon)         {Timon};
  \node[tag] (t34) at (timophanes)    {Timophanes};
  \node[tag] (t35) at (mnasias)       {Mnasias};
  \node[tag] (t36) at (sosikrates)    {Sosikrates};
  \node[tag] (t37) at (thrasikles)    {Thrasikles};
  \node[tag] (t38) at (nikostratos)   {Nikostratos};
  \node[tag] (t39) at (asklepiada)    {Asklepiada or Asklepiades};
  \node[tag] (t40) at (aristratos)    {Aristratos};
  \node[tag] (twoman)      at (woman)      {Woman from Tarentum};
  \node[tag] (tbruttian)   at (bruttian)   {Unknown Bruttian Phrourarchos};
  \node[tag] (ttarent)     at (tarent)     {Tarentum/Neptunia};
  \node[tag] (tbrutti)     at (brutti)     {Brutti};
  \node[tag] (tcarthalo)   at (carthalo)   {Carthalo};
  \node[tag] (tunkcarth)   at (unkcarth)   {Unknown Carthaginian Phrourarchos};
  \node[tag] (tcarthago)   at (carthago)   {Carthago};
  \node[tag] (tlivius)     at (livius)     {Livius};
  \node[tag] (titalia)     at (italia)     {Italia};
  \node[tag] (thannibal)   at (hannibal)   {Hannibal};
  \node[tag] (toricus)     at (oricus)     {Oricus};
  \node[tag] (tlocroi)     at (locroi)     {Locroi Epizephyrioi};
  \node[tag] (tunsrom)     at (unsrom)     {Unspecified Roman Phrourarchos};
  \node[tag] (tunkrom)     at (unkrom)     {Unknown Roman Phrourarchos};
  \node[tag] (tromphb)     at (romphb)     {Roman Phrourarchos};
  \node[tag] (trompha)     at (rompha)     {Roman Phrourarchos};
  \node[tag] (tthoinon)    at (thoinon)    {Thoinon};
  \node[tag] (tsyrac)      at (syrac)      {Syracusae/Syrakousai};
  \node[tag] (tphilistos)  at (philistos)  {Philistos};
  \node[tag] (tdionysius)  at (dionysius)  {Dionysius I};
  \node[tag] (tbiton)      at (biton)      {Biton};
  \node[tag] (tmotya)      at (motya)      {Motya};
  \node[tag] (tpyrrhus)    at (pyrrhus)    {Pyrrhus};
  \node[tag] (tepirus)     at (epirus)     {Epirus};
  \node[tag] (tromjer)     at (romjer)     {Roman Phrourarchos in Jerusalem};
  \node[tag] (tmetaph)     at (metaph)     {Phrourarchos in Metapontum};
  \node[tag] (tmetap)      at (metap)      {Metapontum};
  \node[tag] (tturpil)     at (turpil)     {Turpilius};
  \node[tag] (tstabel)     at (stabel)     {Stabelius};
  \node[tag] (tdecius)     at (decius)     {Decius};
  \node[tag] (tenna)       at (enna)       {(H)Enna};
  \node[tag] (trhegion)    at (rhegion)    {Rhegion/Regium};
  \node[tag] (tpinar)      at (pinar)      {Pinarius};
  \node[tag] (tvaga)       at (vaga)       {Vaga};
  \node[tag] (tapollonia)  at (apollonia)  {Apollonia};
  \node[tag] (tlatium)     at (latium)     {Latium};
  \node[tag] (tjugurtha)   at (jugurtha)   {Jugurtha};
  \node[tag] (tadiab)      at (adiab)      {Adiabene};
  \node[tag] (tmeharsapes) at (meharsapes) {Meharsapes};
  \node[tag] (tunkphra)    at (unkphra)    {Unknown Phrourarchos};
  \node[tag] (tmenand)     at (menand)     {Menandros};
  \node[tag] (tdura)       at (dura)       {Dura/Europos};
  \node[tag] (tromemp)     at (romemp)     {Roman Empire};
  \node[tag] (tarbela)     at (arbela)     {Arbela/Arbil};
  \node[tag] (tmanius)     at (manius)     {Manius Ennius};
  \node[tag] (tadon)       at (adon)       {Adon};
  \node[tag] (taboras)     at (aboras)     {Aboras (river)};
  \node[tag] (trome)       at (rome)       {Rome};
  \node[tag] (tpompey)     at (pompey)     {Pompey};
  \node[tag] (tjudph)      at (judph)      {Phrourarchoi in Judaea};
  \node[tag] (taristob)    at (aristob)    {Aristobulus};
  \node[tag] (tjudaea)     at (judaea)     {Judaea};
  \node[tag] (tpheroras)   at (pheroras)   {Pheroras};
  \node[tag] (talexph)     at (alexph)     {Phrourarchos in Alexandrium};
  \node[tag] (tsartaba)    at (sartaba)    {Sartaba/Alexandreion};
  \node[tag] (tlucius)     at (lucius)     {Lucius};
  \node[tag] (tdask)       at (dask)       {Daskyleion};
  \node[tag] (tprotag)     at (protag)     {Protagorides};
  \node[tag] (tcyzicus)    at (cyzicus)    {Cyzicus};
  \node[tag] (tkonnoi)     at (konnoi)     {Konnoi Ins.};
  \node[tag] (tonesid)     at (onesid)     {[O]nesides};
  \node[tag] (tmagas)      at (magas)      {Magas of Cyrene};
  \node[tag] (tbere2)      at (bere2)      {Berenice II};
  \node[tag] (teumenes)    at (eumenes)    {Eumenes};
  \node[tag] (tkosph)      at (kosph)      {Phrourarchoi in Kos};
  \node[tag] (tkos)        at (kos)        {Kos};
  \node[tag] (tkition)     at (kition)     {Kition};
  \node[tag] (tidalion)    at (idalion)    {Idalion};
  \node[tag] (tposeid)     at (poseid)     {Poseidippos};
  \node[tag] (tepid)       at (epid)       {Epidauros};
  \node[tag] (tunkspar)    at (unkspar)    {Unknown Spartan Phrourarchos};
  \node[tag] (ttimokr)     at (timokr)     {Timokrates};
  \node[tag] (tspartheb)   at (spartheb)   {Spartan Phrourarchos in Thebes};
  \node[tag] (tthebai)     at (thebai)     {Thebai/Thebae};
  \node[tag] (tkallib)     at (kallib)     {Kallibios};
  \node[tag] (ttanagra)    at (tanagra)    {Tanagra};
  \node[tag] (tthyrea)     at (thyrea)     {Thyrea};
  \node[tag] (tnikokles)   at (nikokles)   {Nikokles};
  \node[tag] (tnaxos)      at (naxos)      {Naxos};
  \node[tag] (taeolis)     at (aeolis)     {Aeolis};
  \node[tag] (tunsath)     at (unsath)     {Unspecified Athenian Phrourarchoi};
  \node[tag] (tathenae)    at (athenae)    {Athenae};
  \node[tag] (tunkath)     at (unkath)     {Unknown Athenian Phrourarchos};
  \node[tag] (thellas)     at (hellas)     {Hellas};
  \node[tag] (terythrai)   at (erythrai)   {Erythrai};
  \node[tag] (tnikanor)    at (nikanor)    {Nikanor};
  \node[tag] (tmenyllos)   at (menyllos)   {Menyllos};
  \node[tag] (tcassand)    at (cassand)    {Cassandros};
  \node[tag] (tantipater)  at (antipater)  {Antipater};
  \node[tag] (talexv)      at (alexv)      {Alexander V of Macedon};
  \node[tag] (tantipii)    at (antipii)    {Antipater II of Macedon};
  \node[tag] (tunsmac)     at (unsmac)     {Unspecified Macedonian Phrourarchos};
  \node[tag] (tamphip)     at (amphip)     {Amphipolis};
  \node[tag] (tphilv)      at (philv)      {Philip V};
  \node[tag] (tphiliv)     at (philiv)     {Philip IV of Macedon};
  \node[tag] (tchalkph)    at (chalkph)    {Chalkis, Phrourarchia in};
  \node[tag] (tlocrph)     at (locrph)     {Eastern Locris, phrourarchos in};
  \node[tag] (tchalkis)    at (chalkis)    {Chalkis};
  \node[tag] (tgonatas)    at (gonatas)    {Antigonus II Gonatas};
  \node[tag] (tphilii)     at (philii)     {Philip II};
  \node[tag] (tkynos)      at (kynos)      {Kynos};
  \node[tag] (tunkphrb)    at (unkphrb)    {Unknown Phrourarchos};
  \node[tag] (thydrousa)   at (hydrousa)   {Hydrousa/Hydrea Ins.};
  \node[tag] (tdemfair)    at (demfair)    {Demetrius the Fair};
  \node[tag] (tdemaet)     at (demaet)     {Demetrius II Aetolicus};
  \node[tag] (tdempol)     at (dempol)     {Demetrius I Poliorcetes};
  \node[tag] (tstrombi)    at (strombi)    {Strombichos};
  \node[tag] (tsperchon)   at (sperchon)   {Sperchon};
  \node[tag] (torchom)     at (orchom)     {Orchomenos};
  \node[tag] (tantetes)    at (antetes)    {Antipater Etesias};
  \node[tag] (talexgr)     at (alexgr)     {Alexander The Great};
  \node[tag] (tunkphrc)    at (unkphrc)    {Unknown Phrourarchos};
  \node[tag] (tbactria)    at (bactria)    {Bactria};
  \node[tag] (tpolemon)    at (polemon)    {Polemon};
  \node[tag] (tpelusium)   at (pelusium)   {Pelusium};
  \node[tag] (tarchel)     at (archel)     {Archelaos};
  \node[tag] (txenop)      at (xenop)      {Xenopeithes};
  \node[tag] (tasiaminor)  at (asiaminor)  {Asia Minor};
  \node[tag] (tdoson)      at (doson)      {Antigonus II Doson};
  \node[tag] (tmonoph)     at (monoph)     {Antigonus I Monophthalmus};
  \node[tag] (ttyrus)      at (tyrus)      {Tyrus/Col. Septimia Severa};
  \node[tag] (tamyntas)    at (amyntas)    {Amyntas (son of Andromenes)};
  \node[tag] (tandrom)     at (androm)     {Andromenes};
  \node[tag] (tandron)     at (andron)     {Andronicus};
  \node[tag] (tdion1)      at (dion1)      {Dionysios [1]};
  \node[tag] (tdemet1)     at (demet1)     {Demetrios [1]};
  \node[tag] (tkyrb)       at (kyrb)       {Kyrbissos};
  \node[tag] (tapoll2)     at (apoll2)     {Apollonios [2]};
  \node[tag] (tlamos)      at (lamos)      {Lamos};
  \node[tag] (tkourion)    at (kourion)    {Phrourarchos in Kourion};
  \node[tag] (tpelop)      at (pelop)      {Pelopion};
  \node[tag] (tbacch2)     at (bacch2)     {Bacchios [2]};
  \node[tag] (tkleandr)    at (kleandr)    {Kleandridas};
  \node[tag] (tkalymna)    at (kalymna)    {Kalymna};
  \node[tag] (taetos)      at (aetos)      {Aetos};
  \node[tag] (tdiogenes)   at (diogenes)   {Diogenes};
  \node[tag] (tagathok)    at (agathok)    {Agathokles};
  \node[tag] (tphin)       at (phin)       {Phrourarchia in};
  \node[tag] (tnomos)      at (nomos)      {Hermopolites Nomos};
  \node[tag] (ttimoth)     at (timoth)     {Timotheos};
  \node[tag] (thippom)     at (hippom)     {Hippomedon};
  \node[tag] (taristeas)   at (aristeas)   {Aristeas};
  \node[tag] (tapoll1)     at (apoll1)     {Apollonios [1]};
  \node[tag] (tthera)      at (thera)      {Thera};
  \node[tag] (tdion3)      at (dion3)      {Dionysios [3]};
  \node[tag] (tapoll3)     at (apoll3)     {Apollonios [3]};
  \node[tag] (tepigenes)   at (epigenes)   {Epigenes};
  \node[tag] (tbacch1)     at (bacch1)     {Bacchios [1]};
  \node[tag] (ttheodor)    at (theodor)    {Theodoros};
  \node[tag] (tdemet2)     at (demet2)     {Demetrios [2]};
  \node[tag] (tammona)     at (ammona)     {Ammonios};
  \node[tag] (tasklep)     at (asklep)     {Asklepiades};
  \node[tag] (tthais)      at (thais)      {Thais};
  \node[tag] (tarkes)      at (arkes)      {Arkesilas};
  \node[tag] (teurydice)   at (eurydice)   {Eurydice};
  \node[tag] (tptoli)      at (ptoli)      {Ptolemy I Soter};
  \node[tag] (titanos)     at (itanos)     {Itanos};
  \node[tag] (tberei)      at (berei)      {Berenice I};
  \node[tag] (tmemphis)    at (memphis)    {Memphis};
  \node[tag] (tgenth)      at (genth)      {Genthios};
  \node[tag] (tunkegph)    at (unkegph)    {Unknown Egyptian Phrourarchoi};
  \node[tag] (tphilotas)   at (philotas)   {Philotas};
  \node[tag] (tunkphoia)   at (unkphoia)   {Unknown Phrourarchoi};
  \node[tag] (tmithrid)    at (mithrid)    {Mithridates};
  \node[tag] (tpontus)     at (pontus)     {Pontus};
  \node[tag] (tkonnak)     at (konnak)     {Konnakorex};
  \node[tag] (tdemoph)     at (demoph)     {Demophiles};
  \node[tag] (tpharnakes)  at (pharnakes)  {Pharnakes};
  \node[tag] (therakleia)  at (herakleia)  {Herakleia};
  \node[tag] (tgalatia)    at (galatia)    {Galatia};
  \node[tag] (tmetrod)     at (metrod)     {[Metrodoros]};
  \node[tag] (tamaseia)    at (amaseia)    {Amaseia};
  \node[tag] (theraph)     at (heraph)     {Unspecified Phrourarchoi in Heraklea};
  \node[tag] (therakleid)  at (herakleid)  {Herakleides};
  \node[tag] (talexandr)   at (alexandr)   {Alexander};
  \node[tag] (tpersasia)   at (persasia)   {Persian Phrourarchos in Asia};
  \node[tag] (tasia)       at (asia)       {Asia};
  \node[tag] (tlysim)      at (lysim)      {Lysimachos};
  \node[tag] (tkyproth)    at (kyproth)    {Kyprothemis};
  \node[tag] (tsamos)      at (samos)      {Samos (island)};
  \node[tag] (tdiodoros)   at (diodoros)   {Diodoros};
  \node[tag] (tephesus)    at (ephesus)    {Ephesus/Arsinoe(ia)};
  \node[tag] (tmazaios)    at (mazaios)    {Mazaios};
  \node[tag] (thieros)     at (hieros)     {Hierosolyma/Col. Aelia Capitolina};
  \node[tag] (tjewph)      at (jewph)      {Unspecified Jewish Phrourarchos};
  \node[tag] (tjerph)      at (jerph)      {Jerusalem, Phrourarchos in the Akra};
  \node[tag] (takra)       at (akra)       {Akra?};
  \node[tag] (tcyrusg)     at (cyrusg)     {Cyrus the Great};
  \node[tag] (tcyrusy)     at (cyrusy)     {Cyrus the Younger};
  \node[tag] (tunspsard)   at (unspsard)   {Unspecified Phrourarchoi in Sardeis};
  \node[tag] (tionia)      at (ionia)      {Ionia (region)};
  \node[tag] (tariob)      at (ariob)      {Ariobarzanes};
  \node[tag] (tunkpers)    at (unkpers)    {Unknown Persian Phrourarchos};
  \node[tag] (tadramyt)    at (adramyt)    {Adramyttium};
  \node[tag] (tshushan)    at (shushan)    {Shushan/Susa/Seleucia ad Eulaeum/Shush-i Erem};
  \node[tag] (tunkpersoi)  at (unkpersoi)  {Unknown Persian Phrourarchoi};
  \node[tag] (tparthia)    at (parthia)    {Parthyaie/Parthia};
  \node[tag] (tunkassyr)   at (unkassyr)   {Unknown Assyrian Phrourarchos};
  \node[tag] (tunsppers)   at (unsppers)   {Unspecified Persian Phrourarchoi};
  \node[tag] (tassyria)    at (assyria)    {(As)Syria};
  \node[tag] (tunkphoib)   at (unkphoib)   {Unknown Phrourarchoi};
  \node[tag] (tbabylon)    at (babylon)    {Babylon};
  \node[tag] (tpharnab)    at (pharnab)    {Pharnabazos};
  \node[tag] (tlykom)      at (lykom)      {Lykomedes};
  \node[tag] (tautoph)     at (autoph)     {Autophradates};
  \node[tag] (thalik)      at (halik)      {Halikarnassos};
  \node[tag] (torontes)    at (orontes)    {Orontes};
  \node[tag] (tbabem)      at (babem)      {Babemesis / Batis};
  \node[tag] (tgaza)       at (gaza)       {Gaza};
  \node[tag] (tmithren)    at (mithren)    {Mithrenes};
  \node[tag] (tunnamaig)   at (unnamaig)   {Unnamed Phrourarchos from Aigion};
  \node[tag] (taigion)     at (aigion)     {Aigion};
  \node[tag] (tcyprus)     at (cyprus)     {Cyprus (island)};
  \node[tag] (tcyprph)     at (cyprph)     {Unspecified Cypriot Phrourarchoi};
  \node[tag] (tanaia)      at (anaia)      {Anaia};
  \node[tag] (taniaph)     at (aniaph)     {Ania, Phrourarchos};
  \node[tag] (tteos)       at (teos)       {Teos};
  \node[tag] (tant1)       at (ant1)       {Antiochus I Soter};
  \node[tag] (tant2)       at (ant2)       {Antiochus II Theos};
  \node[tag] (tant11)      at (ant11)      {Antiochus XI Epiphanes Philadelphus};
  \node[tag] (tant12)      at (ant12)      {Antiochus XII Dionysus};
  \node[tag] (tsel2)       at (sel2)       {Seleucus II Callinicus};
  \node[tag] (tsel1)       at (sel1)       {Seleucus I Nicator};
  \node[tag] (tsyrph)      at (syrph)      {Unspecified Phrourarchoi in Syria};
  \node[tag] (tant8)       at (ant8)       {Antiochus VIII Grypus};
  \node[tag] (tzabinas)    at (zabinas)    {Alexander II Zabinas};
  \node[tag] (tant4)       at (ant4)       {Antiochus IV Epiphanes};
  \node[tag] (tant5)       at (ant5)       {Antiochus V Eupator};
  \node[tag] (tsel4)       at (sel4)       {Seleucus IV Philopator};
  \node[tag] (tdem2)       at (dem2)       {Demetrius II Nicator};
  \node[tag] (tsel6)       at (sel6)       {Seleucus VI Epiphanes Nicator};
  \node[tag] (tant13)      at (ant13)      {Antiochus XIII Asiaticus};
  \node[tag] (tant7)       at (ant7)       {Antiochus VII Sidetes};
  \node[tag] (tphil1)      at (phil1)      {Philip I Philadelphus};
  \node[tag] (tant9)       at (ant9)       {Antiochus IX Cyzicenus};
  \node[tag] (tsel3)       at (sel3)       {Seleucus III Ceraunus (or Soter)};
  \node[tag] (tcleothea)   at (cleothea)   {Cleopatra Thea};
  \node[tag] (tsel7)       at (sel7)       {Seleucus VII Kybiosaktes or Philometor};
  \node[tag] (tdem1)       at (dem1)       {Demetrius I Soter};
  \node[tag] (tunkphrd)    at (unkphrd)    {Unknown Phrourarchos};
  \node[tag] (tant3)       at (ant3)       {Antiochus III the Great};
  \node[tag] (tunkphp)     at (unkphp)     {Unknown phrourarchos};
  \node[tag] (tunkphoic)   at (unkphoic)   {Unknown Phrourarchoi};
  \node[tag] (tunkphre)    at (unkphre)    {Unknown phrourarchos};
  \node[tag] (tphoenice)   at (phoenice)   {Phoenice};
  \node[tag] (tseleukeia)  at (seleukeia)  {Seleukeia};
  \node[tag] (tscyth)      at (scyth)      {Scythopolis};
  \node[tag] (tthemist)    at (themist)    {Themistokles};
  \node[tag] (tmykale)     at (mykale)     {Mykale M.};
  \node[tag] (tameinias)   at (ameinias)   {Ameinias};
  \node[tag] (tleomedes)   at (leomedes)   {Leomedes};
  \node[tag] (thelikon)    at (helikon)    {Helikon};
  \node[tag] (tprotarchos) at (protarchos) {Protarchos};
  \node[tag] (tnymphon)    at (nymphon)    {Nymphon};
  \node[tag] (tbias)       at (bias)       {Bias};
  \node[tag] (tapellis)    at (apellis)    {Apellis};
  \node[tag] (tnikoph)     at (nikoph)     {Nikophanes};
  \node[tag] (tthrasy)     at (thrasy)     {Thrasyboulos};
  \node[tag] (therion)     at (herion)     {Herion};
  \node[tag] (tunkphrf)    at (unkphrf)    {Unknown phrourarchos};
  \node[tag] (tmelie)      at (melie)      {Melie/Karion};
  \node[tag] (tpidasa)     at (pidasa)     {Pidasa};
  \node[tag] (tmilph)      at (milph)      {Milesian Phrourarchia};
  \node[tag] (tmildemos)   at (mildemos)   {Milesian Demos};
  \node[tag] (tunkphq)     at (unkphq)     {Unknown phrourarchos};
  \node[tag] (tlepsia)     at (lepsia)     {Lepsia};
  \node[tag] (tmilphos)    at (milphos)    {Milesian Phrourarchos};
  \node[tag] (tmilphin)    at (milphin)    {Milesian Phrourarchia in};
  \node[tag] (tmagph)      at (magph)      {Magnesian Phrourarchia};
  \node[tag] (tphroa)      at (phroa)      {Phrourarchia};
  \node[tag] (tmagnesia)   at (magnesia)   {Magnesia ad Maeandrum};
  \node[tag] (tattalus2)   at (attalus2)   {Attalus II};
  \node[tag] (tphilet)     at (philet)     {Philetaerus};
  \node[tag] (teumenes2)   at (eumenes2)   {Eumenes II};
  \node[tag] (tattalus3)   at (attalus3)   {Attalus III};
  \node[tag] (teumenes1)   at (eumenes1)   {Eumenes I};
  \node[tag] (tattalus1)   at (attalus1)   {Attalus I Soter};
  \node[tag] (tmelan)      at (melan)      {Melanippos};
  \node[tag] (tphaselis)   at (phaselis)   {Phaselis};
  \node[tag] (tnestor)     at (nestor)     {Nestor};
  \node[tag] (tlaodice)    at (laodice)    {Laodice III};
  \node[tag] (tsyene)      at (syene)      {Syene};
  \node[tag] (tdodek)      at (dodek)      {Dodekaschoinos};
  \node[tag] (thierasyk)   at (hierasyk)   {Hierasykaminos};
  \node[tag] (tdemophon)   at (demophon)   {Demophon};
  \node[tag] (therodes)    at (herodes)    {Herodes};
  \node[tag] (tthebais)    at (thebais)    {Thebais};
  \node[tag] (tdiosp)      at (diosp)      {Diospolis Magna/Thebae};
  \node[tag] (tcleoi)      at (cleoi)      {Cleopatra I};
  \node[tag] (tphilae)     at (philae)     {Philae};
  \node[tag] (telephant)   at (elephant)   {Elephantine};
  \node[tag] (tantiph)     at (antiph)     {Antiphanes};
  \node[tag] (tapollon)    at (apollon)    {Apollonios};
  \node[tag] (tkleon)      at (kleon)      {Kleon};
  \node[tag] (tptolaios)   at (ptolaios)   {[Ptolem]aios};
  \node[tag] (tmegas)      at (megas)      {Megasthenes};
  \node[tag] (tptolv)      at (ptolv)      {Ptolemy V Epiphanes};
  \node[tag] (tdioskour)   at (dioskour)   {Dioskourides};
  \node[tag] (teupator)    at (eupator)    {Ptolemy Eupator};
  \node[tag] (tptolvi)     at (ptolvi)     {Ptolemy VI Philometor};
  \node[tag] (tcleoii)     at (cleoii)     {Cleopatra II Philometor Soteira};
  \node[tag] (tptolvii)    at (ptolvii)    {Ptolemy VII Neos Philopator};
  \node[tag] (tchaireas)   at (chaireas)   {Chaireas};
  \node[tag] (thierax)     at (hierax)     {Hierax};
  \node[tag] (tunkphoid)   at (unkphoid)   {Unknown Phrourarchoi};
  \node[tag] (therakleo)   at (herakleo)   {Herakleopolites Nomos};
  \node[tag] (tdyrr)       at (dyrr)       {Dyrr(h)achium/Epidamnos};
  \node[tag] (tsostr)      at (sostr)      {Sostratos};
  \node[tag] (tminucius)   at (minucius)   {Minucius};
  \node[tag] (tjulius)     at (julius)     {Julius Caesar};
  \node[tag] (tcaesarion)  at (caesarion)  {Ptolemy XV Caesarion};
  \node[tag] (tammonb)     at (ammonb)     {Ammonios};
  \node[tag] (tmnasis)     at (mnasis)     {Mnasis};
  \node[tag] (tdionysb)    at (dionysb)    {Dionysios};
  \node[tag] (targos)      at (argos)      {Argos};
  \node[tag] (tmelas)      at (melas)      {Melas};
  \node[tag] (tboeotia)    at (boeotia)    {Boeotia};
  \node[tag] (tmemnear1)   at (memnear1)   {Unspecified Phrourarchoi Near Memphis};
  \node[tag] (tmemnear2)   at (memnear2)   {Unspecified Phrourarchoi Near Memphis};
  \node[tag] (tptolviii)   at (ptolviii)   {Ptolemy VIII Euergetes II (Physkon)};
  \node[tag] (tptolx)      at (ptolx)      {Ptolemy X Alexander I};
  \node[tag] (tkratidas)   at (kratidas)   {Kratidas};
  \node[tag] (tcleoiii)    at (cleoiii)    {Cleopatra III Philometor Soteira Dikaiosyne Nikephoros};
  \node[tag] (tptolxi)     at (ptolxi)     {Ptolemy XI Alexander II};
  \node[tag] (tbereiii)    at (bereiii)    {Berenice III Philopator};
  \node[tag] (tptolix)     at (ptolix)     {Ptolemy IX Soter II (Lathyros)};
  \node[tag] (tselene)     at (selene)     {Cleopatra Selene};
  \node[tag] (tptolxiii)   at (ptolxiii)   {Ptolemy XIII Theos Philopator};
  \node[tag] (tantony)     at (antony)     {Mark Antony};
  \node[tag] (tunkwoman)   at (unkwoman)   {Unknown Egyptian Woman};
  \node[tag] (tcleov)      at (cleov)      {Cleopatra V Tryphaena};
  \node[tag] (tcleoiv)     at (cleoiv)     {Cleopatra IV};
  \node[tag] (tbereiv)     at (bereiv)     {Berenice IV Epiphaneia};
  \node[tag] (tptolxiv)    at (ptolxiv)    {Ptolemy XIV};
  \node[tag] (tptolxii)    at (ptolxii)    {Ptolemy XII Neos Dionysos (Auletes)};
  \node[tag] (tcleovii)    at (cleovii)    {Cleopatra VII Philopator};
  \node[tag] (ttimoklesa)  at (timoklesa)  {Timokles};
  \node[tag] (ttimoklesb)  at (timoklesb)  {Timokles};
  \node[tag] (thermop)     at (hermop)     {Hermopolis Magna/Schmun};
  \node[tag] (therakl)     at (herakl)     {Herakleides};
  \node[tag] (tepigonos)   at (epigonos)   {Ptolemy Epigonos};
  \node[tag] (tegyph)      at (egyph)      {Unspecified Ptolemaic Phrourarchoi in Egypt};
  \node[tag] (tarsiv)      at (arsiv)      {Arsinoe IV};
  \node[tag] (tunkega)     at (unkega)     {Unknown Egyptian Phrourarchos};
  \node[tag] (tunkegb)     at (unkegb)     {Unknown Egyptian Phrourarchos};
  \node[tag] (tarsi)       at (arsi)       {Arsinoe I};
  \node[tag] (tptolii)     at (ptolii)     {Ptolemy II Philadelphus};
  \node[tag] (tarsii)      at (arsii)      {Arsinoe II Philadelphus};
  \node[tag] (talexa)      at (alexa)      {Alexandria};
  \node[tag] (talexpha)    at (alexpha)    {Unspecified Ptolemaic Phrourarchoi in Alexandria};
  \node[tag] (tcyrene)     at (cyrene)     {Cyrene};
  \node[tag] (tcyrph)      at (cyrph)      {Unspecified Cyrenian Phrourarchoi};
  \node[tag] (takarn)      at (akarn)      {Akarnanian phrourarchos};
  \node[tag] (tamyzon)     at (amyzon)     {Amyzon};
  \node[tag] (tunkphrg)    at (unkphrg)    {Unknown Phrourarchos};
  \node[tag] (tchryse)     at (chryse)     {Chryse?};
  \node[tag] (thamax)      at (hamax)      {Hamaxitos};
  \node[tag] (tptoliii)    at (ptoliii)    {Ptolemy III Euergetes};
  \node[tag] (tarsiii)     at (arsiii)     {Arsinoe III};
  \node[tag] (tptoliv)     at (ptoliv)     {Ptolemy IV Philopator};
  \node[tag] (tamman)      at (amman)      {Amman/Philadelphia};
  \node[tag] (tunkegc)     at (unkegc)     {Unknown Egyptian Phrourarchos};
  \node[tag] (txanthos)    at (xanthos)    {Xanthos};
  \node[tag] (tpandaros)   at (pandaros)   {Pandaros};
  \node[tag] (tlindos)     at (lindos)     {Lindos};
  \node[tag] (teuphr)      at (euphr)      {Euphranoros};
  \node[tag] (tpeisi)      at (peisi)      {Peisistratos};
  \end{pgfonlayer}
\end{tikzpicture}
\end{document}
